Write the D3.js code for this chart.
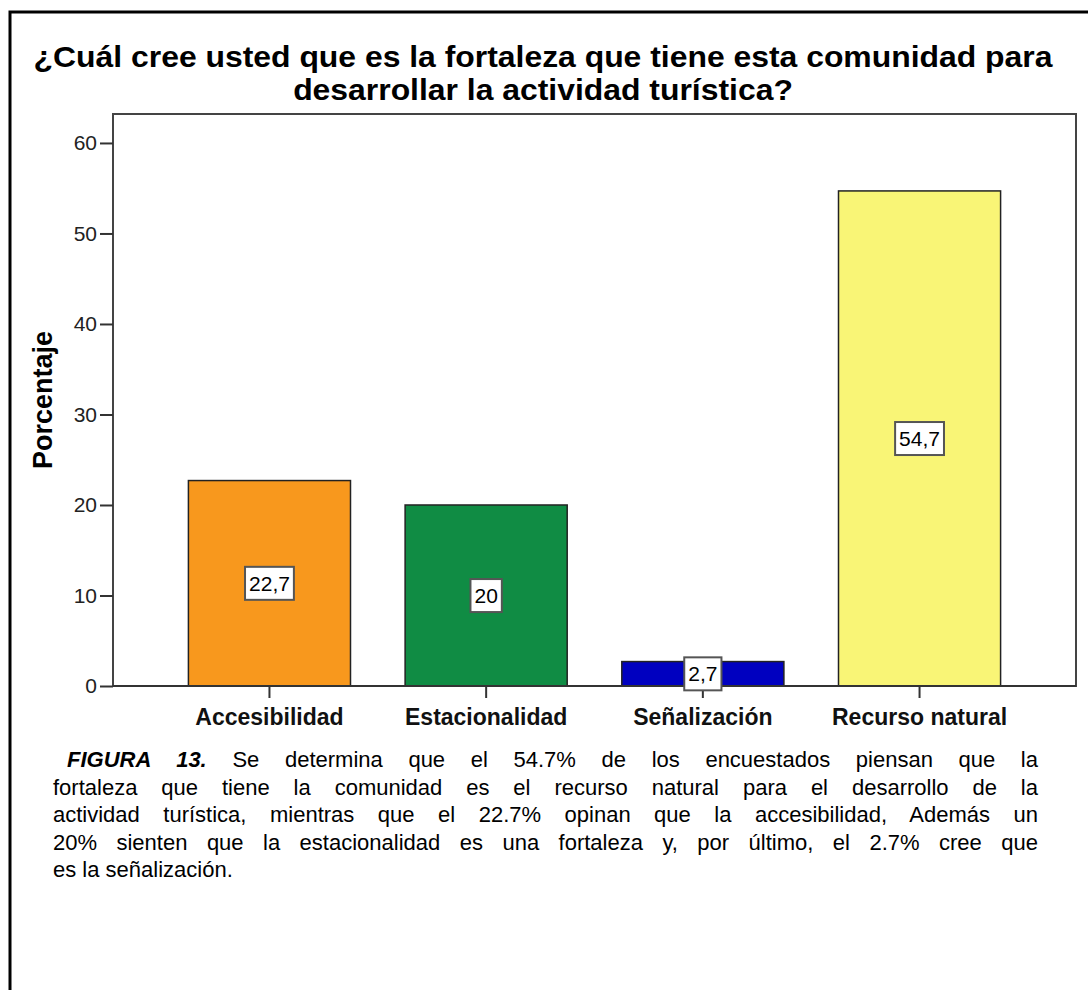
<!DOCTYPE html>
<html>
<head>
<meta charset="utf-8">
<script src="https://cdn.jsdelivr.net/npm/d3@7"></script>
<style>
  body { margin: 0; background: #fff; }
  #wrap { position: relative; width: 1088px; height: 990px; overflow: hidden; }
  #caption { position: absolute; left: 53px; top: 746px; width: 985px;
             font-family: "Liberation Sans", Arial, sans-serif; font-size: 22px;
             line-height: 27.5px; color: #000; }
  #caption div { text-align: justify; text-align-last: justify; white-space: nowrap; }
  #caption div.last { text-align-last: left; }
</style>
</head>
<body>
<div id="wrap">
  <div id="chart"></div>
  <div id="caption"></div>
</div>
<script>
// chart data
const categories = ["Accesibilidad", "Estacionalidad", "Señalización", "Recurso natural"];
const percents = [22.7, 20, 2.7, 54.7];
const barColors = ["#F8981D", "#108C44", "#0000C0", "#F9F576"];
const yTicks = [0, 10, 20, 30, 40, 50, 60];

const titleLines = ["¿Cuál cree usted que es la fortaleza que tiene esta comunidad para",
                    "desarrollar la actividad turística?"];
const captionLines = [
  "Se determina que el 54.7% de los encuestados piensan que la",
  "fortaleza que tiene la comunidad es el recurso natural para el desarrollo de la",
  "actividad turística, mientras que el 22.7% opinan que la accesibilidad, Además un",
  "20% sienten que la estacionalidad es una fortaleza y, por último, el 2.7% cree que",
  "es la señalización."
];

const width = 1088;
const height = 990;
const plot = {left: 113, right: 1076, top: 114, bottom: 686};
const font = '"Liberation Sans", Arial, sans-serif';

const svg = d3.select("#chart")
  .append("svg")
  .attr("width", width)
  .attr("height", height)
  .style("position", "absolute")
  .style("left", 0).style("top", 0);

// outer frame (runs off the right and bottom of the picture)
svg.append("rect")
  .attr("x", 10).attr("y", 12)
  .attr("width", 1200).attr("height", 1200)
  .attr("fill", "none").attr("stroke", "#000").attr("stroke-width", 3);

// title, a little wider than the plain font like the original
svg.append("text")
  .attr("transform", "translate(543,0) scale(1.1,1)")
  .attr("text-anchor", "middle")
  .attr("font-family", font).attr("font-weight", "bold").attr("font-size", 29)
  .selectAll("tspan")
  .data(titleLines)
  .join("tspan")
    .attr("x", 0)
    .attr("y", (d, i) => 67 + i * 33)
    .text(d => d);

// scales
const y = d3.scaleLinear()
  .domain([0, 63.2])
  .range([plot.bottom, plot.top]);

const x = d3.scaleBand()
  .domain(categories)
  .range([plot.left, plot.right])
  .paddingInner(0.252)
  .paddingOuter(0.348);

// plot frame
svg.append("rect")
  .attr("x", plot.left).attr("y", plot.top)
  .attr("width", plot.right - plot.left).attr("height", plot.bottom - plot.top)
  .attr("fill", "none").attr("stroke", "#444").attr("stroke-width", 2);

// y axis
const yAxis = svg.append("g")
  .attr("transform", `translate(${plot.left},0)`)
  .call(d3.axisLeft(y).tickValues(yTicks).tickSize(13).tickPadding(3));
yAxis.select(".domain").remove();
yAxis.selectAll("line").attr("stroke", "#333").attr("stroke-width", 2);
yAxis.selectAll("text").attr("font-family", font).attr("font-size", 21).attr("fill", "#222");

svg.append("text")
  .attr("transform", `translate(52,${(plot.top + plot.bottom) / 2}) rotate(-90)`)
  .attr("text-anchor", "middle")
  .attr("font-family", font).attr("font-weight", "bold").attr("font-size", 27)
  .text("Porcentaje");

// bars
svg.selectAll(".bar")
  .data(percents)
  .join("rect")
    .attr("class", "bar")
    .attr("x", (d, i) => x(categories[i]))
    .attr("y", d => y(d))
    .attr("width", x.bandwidth())
    .attr("height", d => y(0) - y(d))
    .attr("fill", (d, i) => barColors[i])
    .attr("stroke", "#222").attr("stroke-width", 1.5);

// x axis
const xAxis = svg.append("g")
  .attr("transform", `translate(0,${plot.bottom})`)
  .call(d3.axisBottom(x).tickSize(12).tickPadding(11));
xAxis.select(".domain").attr("stroke", "#333").attr("stroke-width", 2)
  .attr("d", `M${plot.left},0H${plot.right}`);
xAxis.selectAll("line").attr("stroke", "#333").attr("stroke-width", 2);
xAxis.selectAll("text").attr("font-family", font).attr("font-weight", "bold")
  .attr("font-size", 23).attr("fill", "#111");

// value labels in boxes, centred halfway up each bar
const comma = d3.formatLocale({decimal: ",", thousands: ".", grouping: [3], currency: ["", ""]});
const fmt = comma.format("~r");

const labels = svg.selectAll(".lab")
  .data(percents)
  .join("g")
    .attr("class", "lab")
    .attr("transform", (d, i) => `translate(${x(categories[i]) + x.bandwidth() / 2},${y(d / 2)})`);

labels.append("text")
  .attr("text-anchor", "middle")
  .attr("dy", "0.36em")
  .attr("font-family", font).attr("font-size", 21)
  .text(d => fmt(d));

labels.each(function() {
  const g = d3.select(this);
  const b = g.select("text").node().getBBox();
  g.insert("rect", "text")
    .attr("x", b.x - 4).attr("y", b.y - 5)
    .attr("width", b.width + 8).attr("height", b.height + 10)
    .attr("fill", "#fff").attr("stroke", "#555").attr("stroke-width", 2);
});

// caption
const cap = d3.select("#caption");
captionLines.forEach((line, i) => {
  const div = cap.append("div").classed("last", i === captionLines.length - 1);
  if (i === 0) {
    div.style("text-indent", "14px");
    div.append("b").append("i").text("FIGURA 13.");
    div.append("span").text(" " + line);
  } else {
    div.text(line);
  }
});
</script>
</body>
</html>
